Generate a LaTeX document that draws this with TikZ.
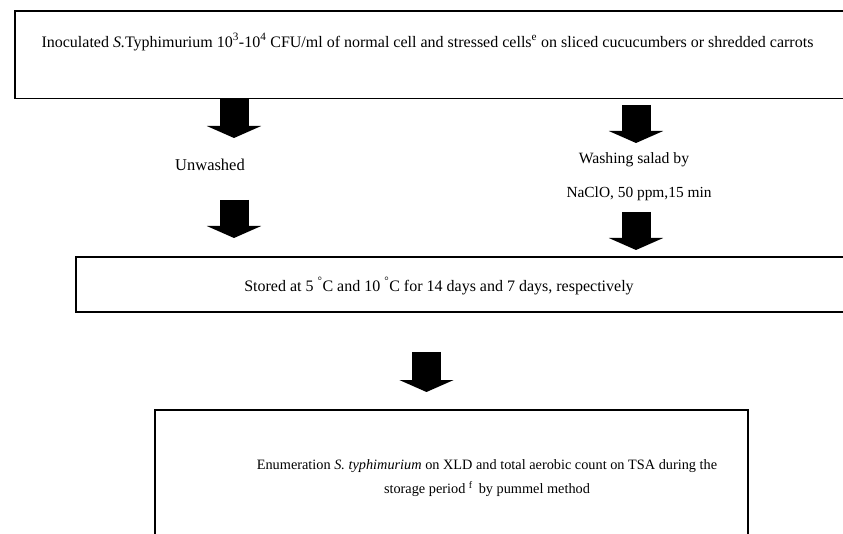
\documentclass[tikz,border=0pt]{standalone}
\usepackage{fontspec}
\setmainfont{Liberation Serif}
\usetikzlibrary{arrows.meta}
\begin{document}
\begin{tikzpicture}[x=1pt,y=-1pt,
  box/.style={draw, line width=1.6pt, inner sep=0pt},
  txt/.style={inner sep=0pt, align=center},
  blockarrow/.style={line width=29pt, -{Triangle[width=54pt,length=12pt]}}]
\useasboundingbox (0,0) rectangle (843,534);
\clip (0,0) rectangle (843,534);
\fill[white] (0,0) rectangle (843,534);
% boxes
\node[box, minimum width=845pt, minimum height=87.7pt] (top) at (437.5,54.85) {};
\node[box, minimum width=784pt, minimum height=55pt] (mid) at (468,284.5) {};
\node[box, minimum width=593pt, minimum height=150pt] (bot) at (451.5,485) {};
% texts
\node[txt, font=\fontsize{16}{20}\selectfont] (t1) at (427.5,42) {Inoculated \textit{S.}Typhimurium 10\textsuperscript{3}-10\textsuperscript{4} CFU/ml of normal cell and stressed cells\textsuperscript{e} on sliced cucucumbers or shredded carrots};
\node[txt, font=\fontsize{16.5}{20}\selectfont] (uw) at (210,165) {Unwashed};
\node[txt, font=\fontsize{15.7}{20}\selectfont] (ws1) at (634,160) {Washing salad by};
\node[txt, font=\fontsize{15.4}{20}\selectfont] (ws2) at (639,194) {NaClO, 50 ppm,15 min};
\node[txt, font=\fontsize{16}{20}\selectfont] (st) at (439,286) {Stored at 5 \textsuperscript{°}C and 10 \textsuperscript{°}C for 14 days and 7 days, respectively};
\node[txt, font=\fontsize{14.3}{24}\selectfont] (en) at (487,478) {Enumeration \textit{S. typhimurium} on XLD and total aerobic count on TSA during the\\ storage period \textsuperscript{f}\, by pummel method};
% arrow coordinates
\coordinate (l1s) at (234,99.5);
\coordinate (l1e) at (234,138);
\coordinate (l2s) at (234,200);
\coordinate (l2e) at (234,238);
\coordinate (r1s) at (636,105);
\coordinate (r1e) at (636,143);
\coordinate (r2s) at (636,212);
\coordinate (r2e) at (636,250);
\coordinate (c3s) at (426.5,352);
\coordinate (c3e) at (426.5,392);
\draw[blockarrow] (l1s) -- (l1e);
\draw[blockarrow] (l2s) -- (l2e);
\draw[blockarrow] (r1s) -- (r1e);
\draw[blockarrow] (r2s) -- (r2e);
\draw[blockarrow] (c3s) -- (c3e);
\end{tikzpicture}
\end{document}
